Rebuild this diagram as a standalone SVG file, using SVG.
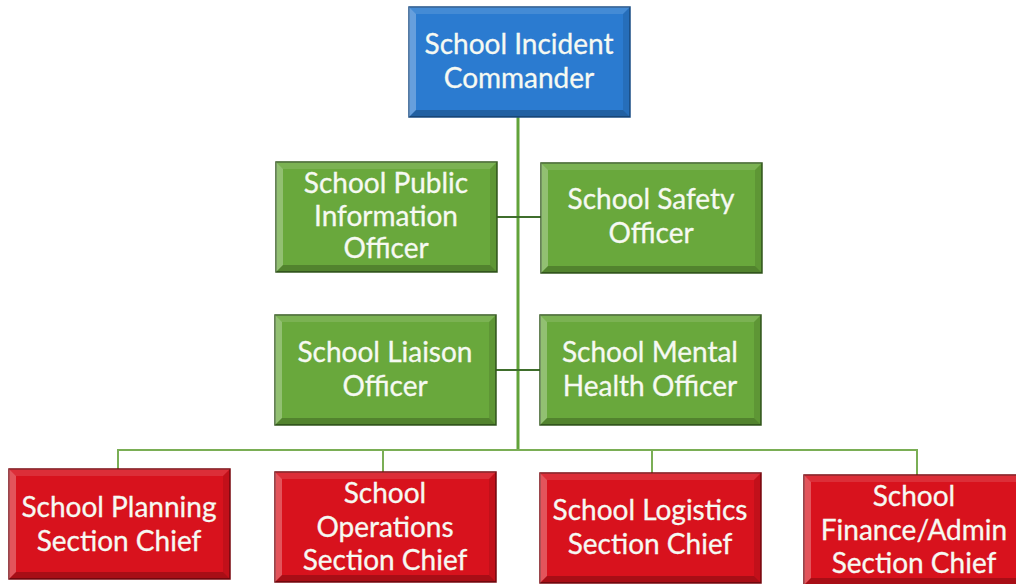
<svg xmlns="http://www.w3.org/2000/svg" xmlns:xlink="http://www.w3.org/1999/xlink" width="1016" height="584" viewBox="0 0 1016 584">
  <style>
    .bg { fill: #ffffff; }
    .box-blue { fill: #2b7bd0; stroke: #1c4f86; stroke-width: 1.5; }
    .box-green { fill: #69a83c; stroke: #355a1f; stroke-width: 1.5; }
    .box-red { fill: #d8121d; stroke: #7a0a10; stroke-width: 1.5; }
    .label { font-family: Lato, "Open Sans", "Liberation Sans", sans-serif; font-size: 28px; fill: #f6f9f2; text-anchor: middle; stroke: #f6f9f2; stroke-width: 0.3; }
    .trunk { stroke: #62a33a; stroke-width: 3; fill: none; }
    .tie { stroke: #3f6e2c; stroke-width: 2; fill: none; }
    .bus { stroke: #7aae55; stroke-width: 2; fill: none; }
  </style>
  <defs>
    <!-- bevel highlights laid over a 221 x 110 box -->
    <g id="bevel">
      <polygon points="0,0 221,0 214,7 7,7" fill="#ffffff" fill-opacity="0.12"/>
      <polygon points="0,0 7,7 7,103 0,110" fill="#ffffff" fill-opacity="0.28"/>
      <polygon points="221,0 221,110 214,103 214,7" fill="#000000" fill-opacity="0.10"/>
      <polygon points="0,110 7,103 214,103 221,110" fill="#000000" fill-opacity="0.22"/>
    </g>
  </defs>

  <rect class="bg" x="0" y="0" width="1016" height="584"/>

  <!-- connectors -->
  <g id="connectors">
    <line class="trunk" x1="518" y1="117" x2="518" y2="451"/>
    <line class="tie" x1="497" y1="217" x2="541" y2="217"/>
    <line class="tie" x1="496" y1="370" x2="540" y2="370"/>
    <line class="bus" x1="118" y1="450" x2="917" y2="450"/>
    <line class="bus" x1="118" y1="449" x2="118" y2="469"/>
    <line class="bus" x1="383" y1="449" x2="383" y2="472"/>
    <line class="bus" x1="652" y1="449" x2="652" y2="473"/>
    <line class="bus" x1="917" y1="449" x2="917" y2="475"/>
  </g>

  <!-- top level -->
  <g id="incident-commander">
    <rect class="box-blue" x="409" y="7" width="221" height="110"/>
    <use xlink:href="#bevel" href="#bevel" x="409" y="7"/>
    <text class="label" x="519" y="54">School Incident</text>
    <text class="label" x="519" y="88">Commander</text>
  </g>

  <!-- command staff -->
  <g id="public-information-officer">
    <rect class="box-green" x="276" y="162" width="221" height="110"/>
    <use xlink:href="#bevel" href="#bevel" x="276" y="162"/>
    <text class="label" x="386" y="193">School Public</text>
    <text class="label" x="386" y="226">Information</text>
    <text class="label" x="386" y="258">Officer</text>
  </g>
  <g id="safety-officer">
    <rect class="box-green" x="541" y="163" width="221" height="110"/>
    <use xlink:href="#bevel" href="#bevel" x="541" y="163"/>
    <text class="label" x="651" y="209">School Safety</text>
    <text class="label" x="651" y="243">Officer</text>
  </g>
  <g id="liaison-officer">
    <rect class="box-green" x="275" y="315" width="221" height="110"/>
    <use xlink:href="#bevel" href="#bevel" x="275" y="315"/>
    <text class="label" x="385" y="362">School Liaison</text>
    <text class="label" x="385" y="396">Officer</text>
  </g>
  <g id="mental-health-officer">
    <rect class="box-green" x="540" y="315" width="221" height="110"/>
    <use xlink:href="#bevel" href="#bevel" x="540" y="315"/>
    <text class="label" x="650" y="362">School Mental</text>
    <text class="label" x="650" y="396">Health Officer</text>
  </g>

  <!-- general staff -->
  <g id="planning-chief">
    <rect class="box-red" x="9" y="469" width="221" height="110"/>
    <use xlink:href="#bevel" href="#bevel" x="9" y="469"/>
    <text class="label" x="119" y="517">School Planning</text>
    <text class="label" x="119" y="551">Section Chief</text>
  </g>
  <g id="operations-chief">
    <rect class="box-red" x="275" y="472" width="221" height="110"/>
    <use xlink:href="#bevel" href="#bevel" x="275" y="472"/>
    <text class="label" x="385" y="503">School</text>
    <text class="label" x="385" y="537">Operations</text>
    <text class="label" x="385" y="570">Section Chief</text>
  </g>
  <g id="logistics-chief">
    <rect class="box-red" x="540" y="473" width="221" height="110"/>
    <use xlink:href="#bevel" href="#bevel" x="540" y="473"/>
    <text class="label" x="650" y="520">School Logistics</text>
    <text class="label" x="650" y="554">Section Chief</text>
  </g>
  <g id="finance-admin-chief">
    <rect class="box-red" x="804" y="475" width="221" height="110"/>
    <use xlink:href="#bevel" href="#bevel" x="804" y="475"/>
    <text class="label" x="914" y="506">School</text>
    <text class="label" x="914" y="540">Finance/Admin</text>
    <text class="label" x="914" y="573">Section Chief</text>
  </g>
</svg>
